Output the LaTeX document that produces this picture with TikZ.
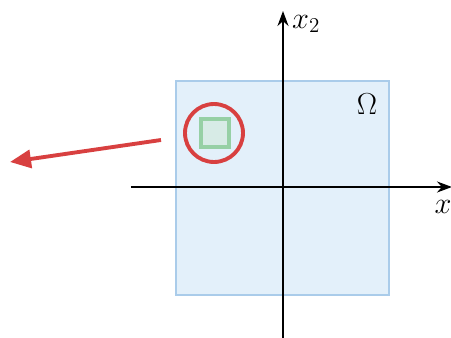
\documentclass[tikz,border=0pt]{standalone}
\usepackage{amsmath,amssymb}
\usepackage{tikz}
\usetikzlibrary{arrows.meta,positioning,calc}
\definecolor{domfill}{RGB}{227,240,250}
\definecolor{domline}{RGB}{170,204,234}
\definecolor{ballred}{RGB}{216,64,64}
\definecolor{cubegreen}{RGB}{150,208,165}
\definecolor{cubefill}{RGB}{215,235,230}
\tikzset{
  axis/.style={-{Stealth[length=3mm,width=2.2mm]},line width=1.1pt,draw=black},
  omegabox/.style={draw=domline,fill=domfill,line width=0.6pt},
  ball/.style={circle,draw=ballred,line width=2.2pt,minimum size=1.16cm,inner sep=0pt},
  cube/.style={draw=cubegreen,fill=cubefill,line width=2.2pt,minimum size=0.56cm,inner sep=0pt},
  pointer/.style={-{Triangle[length=4.2mm,width=3.6mm]},line width=2.2pt,draw=ballred},
  lab/.style={font=\fontsize{17}{19}\selectfont,inner sep=1pt}
}

\begin{document}
\begin{tikzpicture}[x=0.02cm,y=-0.02cm]
  \useasboundingbox (0,0) rectangle (451,338);
  % the domain
  \node[omegabox,minimum width=4.26cm,minimum height=4.28cm,inner sep=0pt] (omega) at (282.5,188) {};
  \node[lab,anchor=center] (omegalab) at (367,104) {$\Omega$};
  % axes
  \coordinate (xstart) at (131,187);
  \coordinate (xend) at (452,187);
  \coordinate (ystart) at (283,340);
  \coordinate (yend) at (283,11);
  \draw[axis] (xstart) -- (xend);
  \draw[axis] (ystart) -- (yend);
  \node[lab,anchor=west] (x2lab) at (290,24) {$x_2$};
  \node[lab,anchor=center] (x1lab) at (443,207) {$x$};
  % ball and cube
  \node[ball] (ball) at (214,133) {};
  \node[cube] (cube) at (215,133) {};
  \coordinate (from) at (161,140);
  \coordinate (to) at (10,162);
  \draw[pointer] (from) -- (to);
\end{tikzpicture}
\end{document}
